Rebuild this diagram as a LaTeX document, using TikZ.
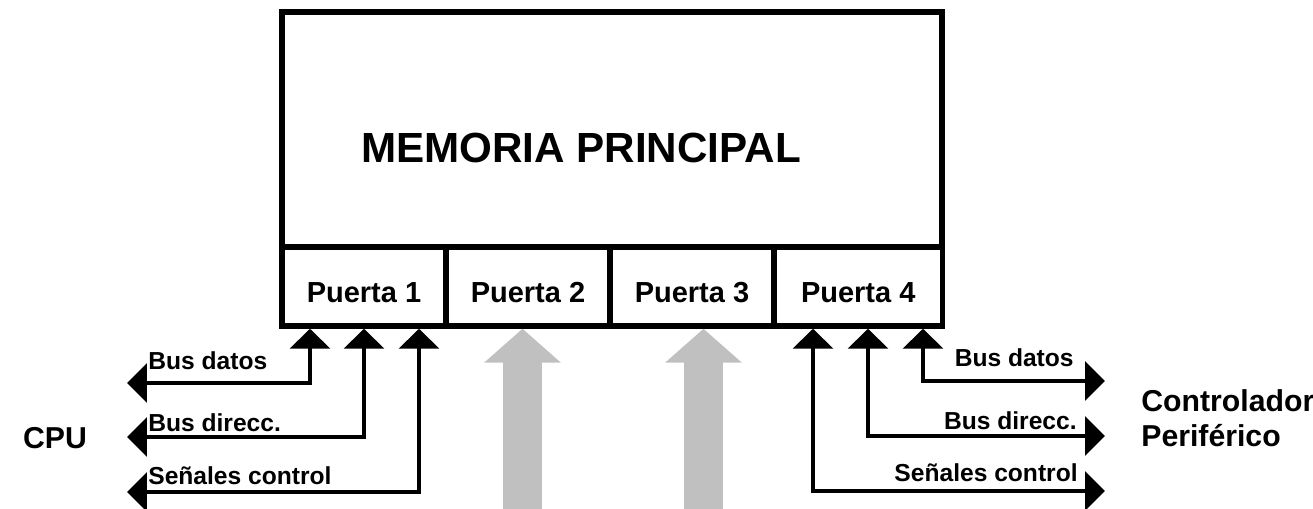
\documentclass[tikz,border=0pt]{standalone}
\usepackage{fontspec}
\setmainfont{Liberation Sans}
\usetikzlibrary{arrows.meta}
\definecolor{portgray}{HTML}{C0C0C0}

\begin{document}
\begin{tikzpicture}[x=0.02cm, y=-0.02cm,
    box/.style={draw=black, line width=0.12cm, inner sep=0pt},
    port/.style={box, line width=0.11cm, minimum width=3.28cm, minimum height=1.58cm,
        text height=0.66cm, font=\bfseries\fontsize{16.5}{20}\selectfont},
    bus/.style={line width=0.08cm,
        {Triangle[width=0.8cm,length=0.4cm]}-{Triangle[width=0.78cm,length=0.4cm]}},
    buslabel/.style={inner sep=0pt, font=\bfseries\fontsize{14}{17}\selectfont},
    side/.style={inner sep=0pt, font=\bfseries\fontsize{17.2}{20}\selectfont},
    fatarrow/.style={draw=portgray, line width=0.78cm,
        -{Triangle[width=1.5cm,length=0.68cm]}}
]
    \useasboundingbox (0,0) rectangle (1313,509);

    % memoria y puertas
    \node[box, minimum width=13.21cm, minimum height=4.71cm] (mem) at (612.25,129.25) {};
    \node[inner sep=0pt, font=\bfseries\fontsize{24}{29}\selectfont] (title) at (581,148) {MEMORIA PRINCIPAL};
    \node[port] (p1) at (364,286.5) {Puerta 1};
    \node[port] (p2) at (528,286.5) {Puerta 2};
    \node[port] (p3) at (692,286.5) {Puerta 3};
    \node[port, minimum width=3.37cm] (p4) at (858.25,286.5) {Puerta 4};

    % lado CPU
    \coordinate (cdat) at (127,383);
    \coordinate (cdir) at (127,437);
    \coordinate (cctl) at (127,492);
    \draw[bus] (310,0 |- p1.south) |- (cdat);
    \draw[bus] (364,0 |- p1.south) |- (cdir);
    \draw[bus] (419,0 |- p1.south) |- (cctl);
    \node[buslabel, anchor=base west] (ldat) at (148,370) {Bus datos};
    \node[buslabel, anchor=base west] (ldir) at (148,432) {Bus direcc.};
    \node[buslabel, anchor=base west] (lctl) at (148,485) {Señales control};
    \node[side] (cpu) at (55,438) {CPU};

    % lado periferico
    \coordinate (pdat) at (1105,381);
    \coordinate (pdir) at (1105,436);
    \coordinate (pctl) at (1105,491);
    \draw[bus] (923,0 |- p4.south) |- (pdat);
    \draw[bus] (868,0 |- p4.south) |- (pdir);
    \draw[bus] (813,0 |- p4.south) |- (pctl);
    \node[buslabel, anchor=base east] (rdat) at (1074,367) {Bus datos};
    \node[buslabel, anchor=base east] (rdir) at (1077,430) {Bus direcc.};
    \node[buslabel, anchor=base east] (rctl) at (1078,482) {Señales control};
    \node[side, anchor=west, align=left] (ctrl) at (1141,418) {Controlador\\Periférico};

    % flechas grises
    \coordinate (g2) at (522.5,509);
    \coordinate (g3) at (703.5,509);
    \draw[fatarrow] (g2) -- (p2.south -| g2);
    \draw[fatarrow] (g3) -- (p3.south -| g3);
\end{tikzpicture}
\end{document}
